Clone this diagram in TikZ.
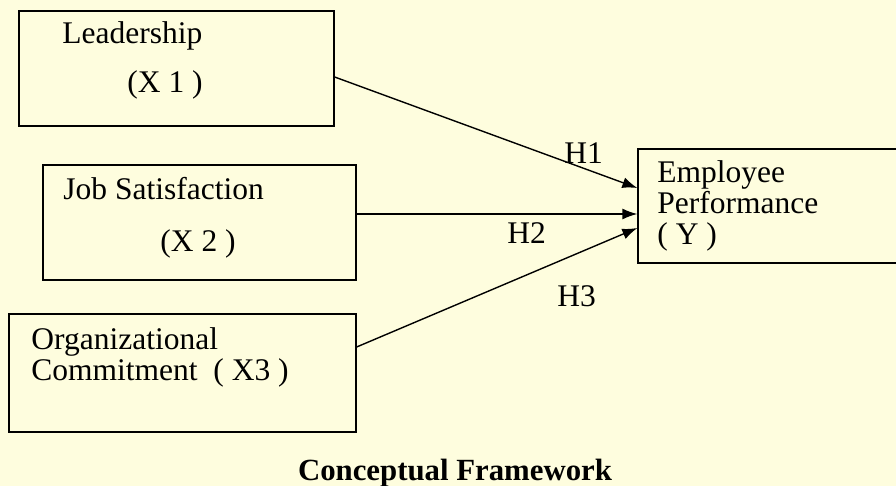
\documentclass[tikz,border=0pt]{standalone}
\usepackage{fontspec}
\setmainfont{Liberation Serif}
\usepackage{tikz}
\usetikzlibrary{arrows.meta}
\usetikzlibrary{positioning}

\definecolor{cream}{RGB}{254,253,222}

\begin{document}
\begin{tikzpicture}[x=0.5pt, y=-0.5pt, >={Latex[length=7.5pt, width=5.5pt]},
    every node/.style={font=\fontsize{15.75}{15.3}\selectfont},
    var/.style={draw, line width=0.65pt, inner sep=0pt},
    txt/.style={anchor=base west, inner sep=0pt},
    hyp/.style={line width=0.7pt, ->}]
        % Background and page size
        \fill[cream] (0,0) rectangle (896,486);
        \useasboundingbox (0,0) rectangle (896,486);

        % Draw the variable boxes
        \node[var, minimum width=157.5pt, minimum height=57.5pt] (lead) at (176.5,68.5) {};
        \node[var, minimum width=156.5pt, minimum height=57.5pt] (job) at (199.5,222.5) {};
        \node[var, minimum width=173.5pt, minimum height=59pt] (org) at (182.5,373) {};
        \node[var, minimum width=133.5pt, minimum height=57pt] (perf) at (771.5,206) {};

        % Texts in the boxes
        \node[txt] (leadname) at (62,44) {Leadership};
        \node[txt] (leadvar) at (127,93) {(X 1 )};
        \node[txt] (jobname) at (63,200) {Job Satisfaction};
        \node[txt] (jobvar) at (160,252) {(X 2 )};
        \node[txt] (orgname) at (31,350) {Organizational};
        \node[txt] (orgvar) at (31,381) {Commitment~ ( X3 )};
        \node[txt] (perfname) at (657,183) {Employee};
        \node[txt] (perfname2) at (657,214) {Performance};
        \node[txt] (perfvar) at (657,245) {( Y )};

        % Draw the hypotheses
        \draw[hyp] ([yshift=-4.25pt]lead.east) -- ([yshift=9pt]perf.west);
        \draw[hyp] ([yshift=4.25pt]job.east) -- ([yshift=-4pt]perf.west);
        \draw[hyp] ([yshift=13pt]org.east) -- ([yshift=-11pt]perf.west);

        \node[txt] (h1) at (564,164) {H1};
        \node[txt] (h2) at (507,244) {H2};
        \node[txt] (h3) at (557,307) {H3};

        \node[anchor=base, inner sep=0pt, font=\fontsize{15.4}{18}\selectfont\bfseries] (title) at (455,481) {Conceptual Framework};
      \end{tikzpicture}
\end{document}
